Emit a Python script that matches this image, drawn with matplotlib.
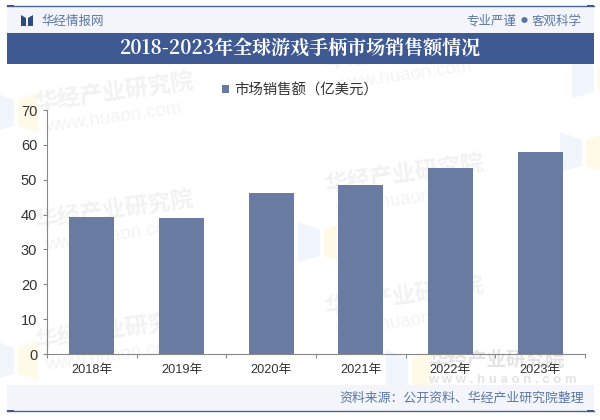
import matplotlib
matplotlib.use("Agg")
import matplotlib.pyplot as plt
from matplotlib.patches import Rectangle, Polygon

plt.rcParams['font.family'] = ['Noto Sans CJK SC', 'DejaVu Sans']

years = ["2018年", "2019年", "2020年", "2021年", "2022年", "2023年"]
sales = [39.2, 39.1, 46.2, 48.4, 53.5, 57.9]
y_ticks = [0, 10, 20, 30, 40, 50, 60, 70]

title = "2018-2023年全球游戏手柄市场销售额情况"
series_name = "市场销售额（亿美元）"
source = "资料来源：公开资料、华经产业研究院整理"

W, H = 600, 420
latin_cjk = ['Liberation Sans', 'Noto Sans CJK SC', 'DejaVu Sans']

fig = plt.figure(figsize=(W / 100, H / 100), dpi=100, facecolor="white")

# pixel canvas for header and footer
bg = fig.add_axes([0, 0, 1, 1], zorder=0)
bg.set_xlim(0, W)
bg.set_ylim(H, 0)
bg.axis("off")

band = "#f3f5fa"
dark = "#3f5a92"
text_blue = "#5b76a6"
bg.add_patch(Rectangle((7, 6), 587, 27, fc=band, ec="none", zorder=5))
bg.add_patch(Rectangle((7, 33), 587, 31, fc=dark, ec="none", zorder=5))
bg.add_patch(Rectangle((7, 385), 587, 27, fc=band, ec="none", zorder=5))
for yy in (6, 411):
    bg.plot([7, 594], [yy, yy], color="#4a6496", lw=1, zorder=6)
    bg.add_patch(Rectangle((7, yy - 1), 7, 2, fc=dark, ec="none", zorder=6))
    bg.add_patch(Rectangle((587, yy - 1), 7, 2, fc=dark, ec="none", zorder=6))

# logo
bg.add_patch(Polygon([(21, 15), (26, 18), (26, 26), (21, 26)], fc="#2f4a80", ec="none", zorder=6))
bg.add_patch(Polygon([(33, 15), (28, 18), (28, 26), (33, 26)], fc="#2f4a80", ec="none", zorder=6))

bg.text(41, 21, "华经情报网", fontsize=9, color=text_blue, va="center", ha="left", zorder=7)
bg.text(516, 21, "专业严谨", fontsize=9, color=text_blue, va="center", ha="right", zorder=7)
bg.text(524, 21, "●", fontsize=5, color=text_blue, va="center", ha="center", zorder=7)
bg.text(582, 21, "客观科学", fontsize=9, color=text_blue, va="center", ha="right", zorder=7)
bg.text(300, 49, title, fontsize=13.7, color="white", weight="bold", va="center", ha="center", zorder=7,
        family=['Noto Serif CJK SC', 'Noto Sans CJK SC', 'DejaVu Sans'])
bg.text(584, 398, source, fontsize=9.3, color=text_blue, va="center", ha="right", zorder=7)

# pale logo marks behind the chart
for x, y in [(-8, 92), (-8, 340), (298, 222), (386, 350), (560, 132), (572, 58)]:
    bg.add_patch(Polygon([(x, y), (x + 22, y + 8), (x + 22, y + 34), (x, y + 40)], fc="#f1f6fc", ec="none", zorder=1))
    bg.add_patch(Polygon([(x + 26, y + 8), (x + 46, y), (x + 46, y + 40), (x + 26, y + 34)], fc="#fff9e8", ec="none", zorder=1))

# watermarks
for x, y in [(35, 104), (35, 222), (35, 342), (325, 186), (325, 308), (325, 62)]:
    bg.text(x, y, "华经产业研究院", fontsize=16.5, color="#f2f2f2", weight="bold",
            rotation=8, va="center", ha="left", rotation_mode="anchor", zorder=2)
    bg.text(x + 10, y + 24, "www.huaon.com", fontsize=13.5, color="#f4f4f4",
            rotation=8, va="center", ha="left", rotation_mode="anchor", zorder=2, family="Liberation Sans")
bg.text(428, 360, "华经产业研究院", fontsize=14, color="#e4e4e4", weight="bold", va="center", ha="left", zorder=2)
bg.text(428, 380, "w w w . h u a o n . c o m", fontsize=9.5, color="#e4e4e4", weight="bold", va="center", ha="left",
        zorder=2, family="Liberation Sans")

ax = fig.add_axes([47 / W, 1 - 354 / H, (585 - 47) / W, (354 - 110) / H], zorder=1)
ax.patch.set_alpha(0)
ax.bar(range(len(years)), sales, width=0.5, color="#697ba1", label=series_name)
ax.set_xlim(-0.5, 5.5)
ax.set_ylim(0, 70)
ax.set_yticks(y_ticks)
ax.set_xticks([i - 0.5 for i in range(len(years) + 1)])
ax.set_xticklabels([])
ax.set_xticks(range(len(years)), minor=True)
ax.set_xticklabels(years, minor=True, family=latin_cjk)
ax.tick_params(axis="x", which="minor", length=0, pad=7, labelsize=9.2, labelcolor="#333333")
ax.tick_params(axis="x", which="major", length=3, color="#888888")
ax.tick_params(axis="y", length=3, color="#888888", labelsize=10.5, labelcolor="#333333", pad=4)
for lab in ax.get_yticklabels():
    lab.set_family(latin_cjk)
for s in ("top", "right"):
    ax.spines[s].set_visible(False)
for s in ("left", "bottom"):
    ax.spines[s].set_color("#888888")

ax.legend(loc="upper center", bbox_to_anchor=(0.47, 1.163), frameon=False, fontsize=10.4,
          handlelength=0.45, handleheight=0.45, handletextpad=0.35, labelcolor="#333333")

fig.savefig("out.png", dpi=100)
